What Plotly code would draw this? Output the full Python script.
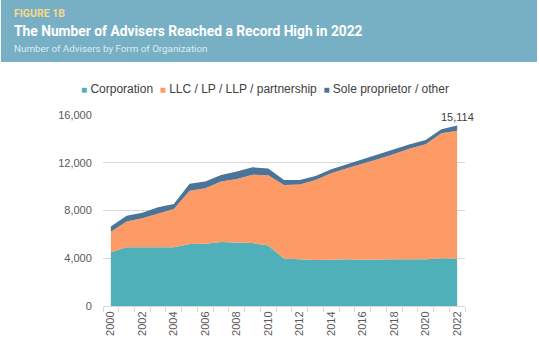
import plotly.graph_objects as go

years = list(range(2000, 2023))
corporation = [4500, 4920, 4920, 4940, 4920, 5200, 5220, 5360, 5310, 5280, 5060, 3970,
               3910, 3860, 3880, 3910, 3870, 3910, 3910, 3910, 3910, 3990, 3950]
llc = [1730, 2150, 2430, 2830, 3210, 4460, 4640, 5060, 5330, 5720, 5890, 6170,
       6260, 6700, 7240, 7630, 8030, 8410, 8830, 9290, 9640, 10480, 10740]
sole = [420, 500, 470, 500, 420, 590, 560, 560, 620, 620, 560, 420,
        390, 330, 330, 330, 330, 330, 330, 350, 350, 330, 424]
series_names = ["Corporation", "LLC / LP / LLP / partnership", "Sole proprietor / other"]
series_colors = ["#4FB0B9", "#FE9A66", "#4C7398"]
x_tick_labels = [str(y) for y in range(2000, 2023, 2)]
y_tick_vals = [0, 4000, 8000, 12000, 16000]

fig = go.Figure()
for name, vals, col in zip(series_names, [corporation, llc, sole], series_colors):
    fig.add_trace(go.Scatter(x=years, y=vals, name=name, stackgroup="one",
                             mode="lines", line=dict(width=0, color=col),
                             fillcolor=col, showlegend=False))

total_last = corporation[-1] + llc[-1] + sole[-1]

fig.update_layout(
    width=539, height=351,
    margin=dict(l=103, r=74, t=115, b=45),
    paper_bgcolor="white", plot_bgcolor="white",
    font=dict(family="Liberation Sans, Arial, sans-serif", color="#595959", size=11),
    xaxis=dict(range=[1999.5, 2022.5], tickmode="array",
               tickvals=list(range(2000, 2023, 2)), ticktext=x_tick_labels,
               tickangle=-90, ticks="", showgrid=False, showline=True,
               linecolor="#D9D9D9", linewidth=1, zeroline=False,
               tickfont=dict(size=11, color="#595959"),
               minor=dict(tickvals=[y + 0.5 for y in range(1999, 2023)],
                          ticks="outside", ticklen=5, tickcolor="#D9D9D9",
                          showgrid=False)),
    yaxis=dict(range=[0, 16000], tickvals=y_tick_vals, tickformat=",",
               showgrid=True, gridcolor="#D9D9D9", gridwidth=1, zeroline=False,
               ticks="outside", ticklen=8, tickcolor="rgba(0,0,0,0)",
               tickfont=dict(size=11, color="#595959")),
    showlegend=False,
)


def px_x(px):
    return (px - 103) / 362


def px_y(py):
    return (306 - py) / 191


# header band
fig.add_shape(type="rect", xref="paper", yref="paper",
              x0=px_x(1), x1=px_x(537), y0=px_y(62), y1=px_y(0),
              fillcolor="#77B0C5", line=dict(width=0), layer="below")

fig.add_annotation(text="<b>FIGURE 1B</b>", x=px_x(12), y=px_y(14),
                   xref="paper", yref="paper", xanchor="left", yanchor="middle",
                   showarrow=False, font=dict(family="Roboto, sans-serif", size=10.5, color="#F6D98B"))
fig.add_annotation(text="<b>The Number of Advisers Reached a Record High in 2022</b>",
                   x=px_x(12), y=px_y(31), xref="paper", yref="paper",
                   xanchor="left", yanchor="middle", showarrow=False,
                   font=dict(family="Roboto, sans-serif", size=13.8, color="white"))
fig.add_annotation(text="Number of Advisers by Form of Organization",
                   x=px_x(12), y=px_y(48.5), xref="paper", yref="paper",
                   xanchor="left", yanchor="middle", showarrow=False,
                   font=dict(family="Roboto, sans-serif", size=9.8, color="#DCEBF1"))

# legend
legend_text = "  ".join(f'<span style="color:{c};font-size:10px">■</span> {n}'
                        for n, c in zip(series_names, series_colors))
fig.add_annotation(text=legend_text, x=px_x(264.5), y=px_y(89), xref="paper", yref="paper",
                   xanchor="center", yanchor="middle", showarrow=False,
                   font=dict(size=12, color="#404040"))

# last value label
fig.add_annotation(text=f"{total_last:,}", x=years[-1], y=total_last,
                   xanchor="center", yanchor="bottom", yshift=1, showarrow=False,
                   font=dict(size=11, color="#404040"))

fig.write_html("out.html")
